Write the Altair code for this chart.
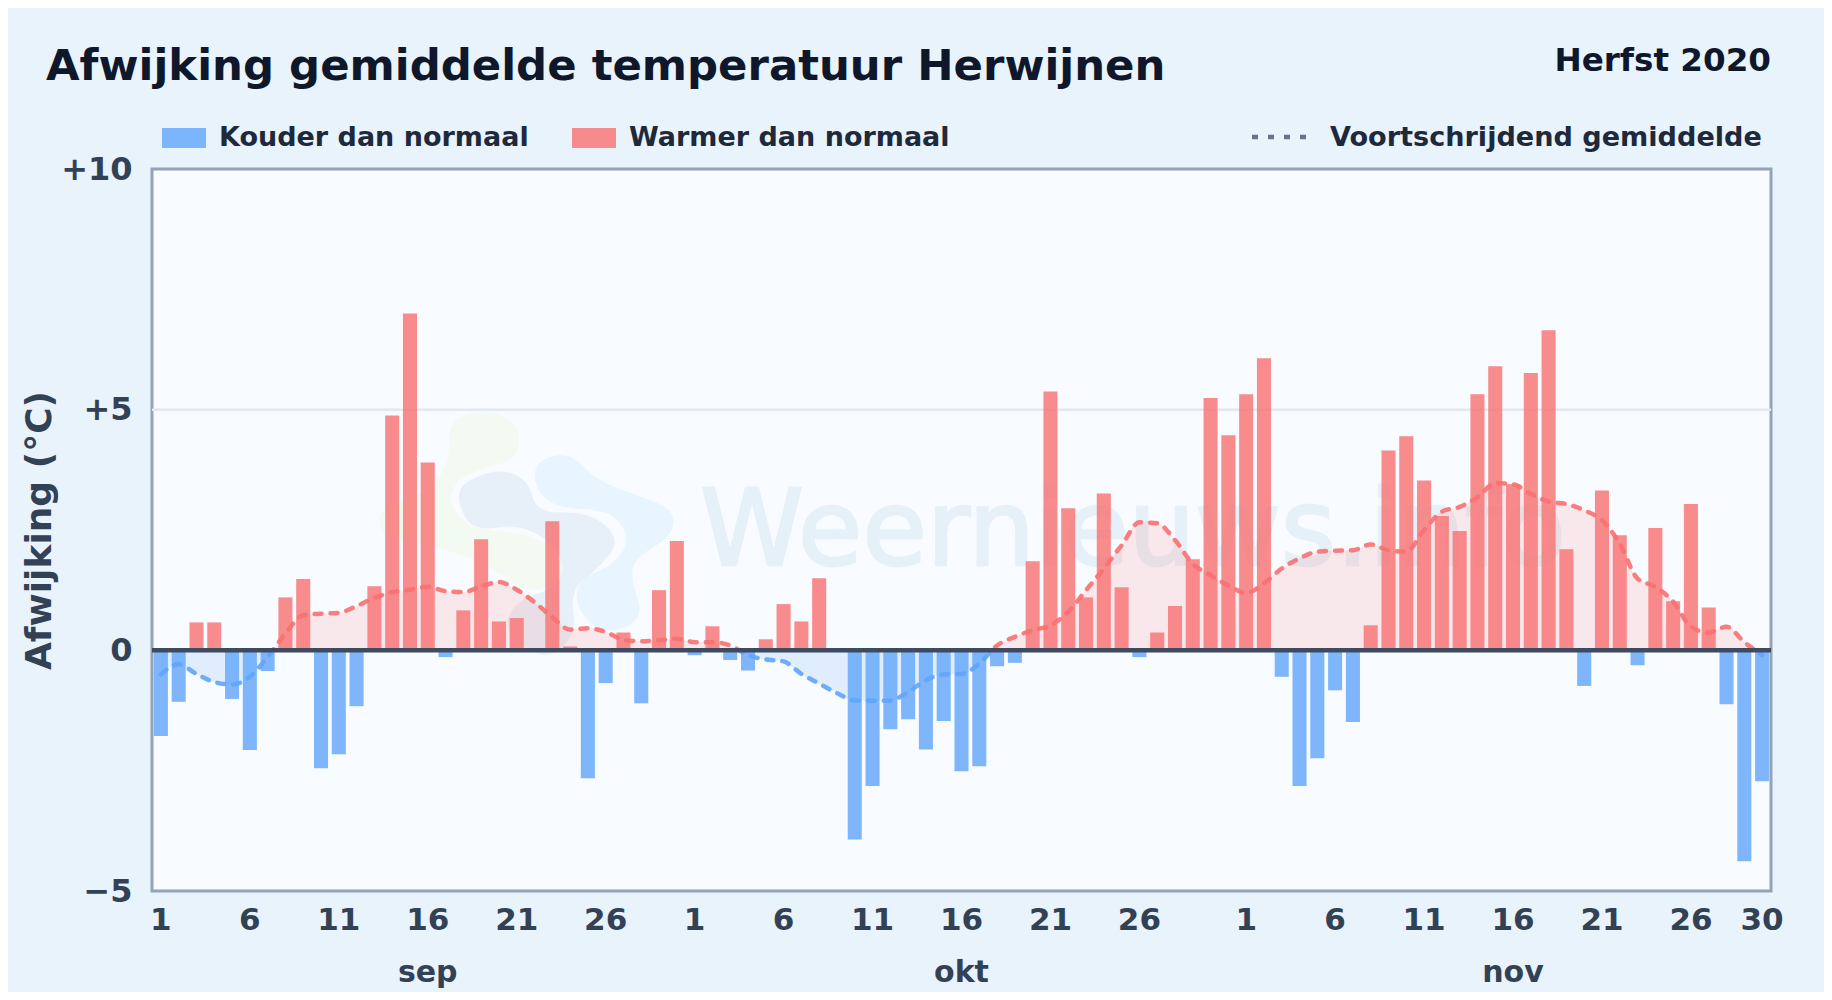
import altair as alt
import pandas as pd

FONT = "DejaVu Sans"
MONTHS = [("09", 30), ("10", 31), ("11", 30)]
DAG = [f"{m}-{d:02d}" for m, n in MONTHS for d in range(1, n + 1)]

AFWIJKING_SEP = [-1.78, -1.07, 0.58, 0.58, -1.01, -2.07, -0.43, 1.10, 1.48, -2.45,
                 -2.16, -1.16, 1.33, 4.88, 7.00, 3.90, -0.14, 0.83, 2.31, 0.60,
                 0.67, 0.0, 2.68, 0.08, -2.66, -0.68, 0.37, -1.10, 1.25, 2.27]
AFWIJKING_OKT = [-0.10, 0.50, -0.20, -0.42, 0.23, 0.96, 0.60, 1.50, 0.0, -3.93,
                 -2.82, -1.64, -1.43, -2.06, -1.47, -2.51, -2.41, -0.33, -0.26, 1.85,
                 5.38, 2.95, 1.10, 3.26, 1.31, -0.14, 0.37, 0.92, 1.89, 5.24, 4.47]
AFWIJKING_NOV = [5.32, 6.07, -0.55, -2.82, -2.24, -0.83, -1.49, 0.52, 4.15, 4.45,
                 3.53, 2.79, 2.48, 5.32, 5.90, 3.45, 5.76, 6.65, 2.10, -0.74,
                 3.32, 2.39, -0.31, 2.54, 1.02, 3.04, 0.89, -1.12, -4.38, -2.72]
GEMIDDELD_SEP = [-0.50, -0.29, -0.49, -0.66, -0.71, -0.55, -0.14, 0.35, 0.73, 0.76,
                 0.78, 0.92, 1.09, 1.21, 1.26, 1.32, 1.23, 1.21, 1.33, 1.42,
                 1.26, 1.00, 0.69, 0.43, 0.46, 0.38, 0.22, 0.19, 0.21, 0.24]
GEMIDDELD_OKT = [0.17, 0.17, 0.10, -0.10, -0.19, -0.23, -0.49, -0.69, -0.89, -1.04,
                 -1.05, -1.04, -0.87, -0.62, -0.50, -0.49, -0.28, 0.10, 0.28, 0.42,
                 0.52, 0.80, 1.25, 1.70, 2.18, 2.66, 2.64, 2.29, 1.80, 1.56, 1.35]
GEMIDDELD_NOV = [1.19, 1.39, 1.70, 1.91, 2.05, 2.07, 2.08, 2.20, 2.08, 2.05,
                 2.50, 2.88, 2.98, 3.18, 3.47, 3.45, 3.25, 3.09, 3.04, 2.91,
                 2.70, 2.22, 1.49, 1.32, 1.01, 0.49, 0.37, 0.49, 0.17, -0.10]
AFWIJKING = AFWIJKING_SEP + AFWIJKING_OKT + AFWIJKING_NOV
GEMIDDELD = GEMIDDELD_SEP + GEMIDDELD_OKT + GEMIDDELD_NOV
X_TICKS = [f"09-{d:02d}" for d in (1, 6, 11, 16, 21, 26)] + \
          [f"10-{d:02d}" for d in (1, 6, 11, 16, 21, 26)] + \
          [f"11-{d:02d}" for d in (1, 6, 11, 16, 21, 26, 30)]
MONTH_KEYS = ["09-16", "10-16", "11-16"]
MONTH_LABELS = ["sep", "okt", "nov"]
KOUD, WARM = "Kouder dan normaal", "Warmer dan normaal"

BG, PLOT_BG, FRAME = "#e9f3fc", "#f8fbff", "#94a3b8"
RED, BLUE = "#f87171", "#60a5fa"
W, H = 1619, 722
OX, OY = 144, 161  # plot origin inside the svg

df = pd.DataFrame({"dag": DAG, "afw": AFWIJKING, "gem": GEMIDDELD,
                   "soort": [WARM if v >= 0 else KOUD for v in AFWIJKING],
                   "nul": [0] * len(DAG)})

x = alt.X("dag:N", sort=DAG, title=None,
          scale=alt.Scale(paddingInner=0.21, paddingOuter=0.105),
          axis=alt.Axis(values=X_TICKS, labelAngle=0, labelFont=FONT, labelFontSize=31,
                        labelFontWeight="bold", labelColor="#334155", labelPadding=14,
                        labelExpr="toNumber(slice(datum.value, 3))", labelOverlap=False,
                        labelBound=False, labelFlush=False, ticks=False, domain=False,
                        grid=False))
y = alt.Y("afw:Q", title="Afwijking (°C)",
          scale=alt.Scale(domain=[-5, 10], nice=False),
          axis=alt.Axis(values=[-5, 0, 5, 10], ticks=False, domain=False, grid=False,
                        labelFont=FONT, labelFontSize=32, labelFontWeight="bold",
                        labelColor="#334155", labelPadding=20,
                        labelExpr="datum.value > 0 ? '+' + datum.value : (datum.value < 0 ? '−' + abs(datum.value) : '0')",
                        titleFont=FONT, titleFontSize=36, titleFontWeight="bold",
                        titleColor="#334155", titleX=-94, titleY=361))

top, bot = max(GEMIDDELD), min(GEMIDDELD)
zero = top / (top - bot)


def split_gradient(upper, lower):
    return alt.LinearGradient(gradient="linear", x1=0, x2=0, y1=0, y2=1, stops=[
        alt.GradientStop(offset=0, color=upper), alt.GradientStop(offset=zero, color=upper),
        alt.GradientStop(offset=zero, color=lower), alt.GradientStop(offset=1, color=lower)])


one = pd.DataFrame({"a": [0]})


def smooth(points):
    """Closed smooth path through the midpoints of a decorative outline."""
    cx, cy, k = 500, 430, 100
    p = [((a - cx) / k, (b - cy) / k) for a, b in points]
    mids = [((p[i][0] + p[(i + 1) % len(p)][0]) / 2, (p[i][1] + p[(i + 1) % len(p)][1]) / 2)
            for i in range(len(p))]
    d = f"M{mids[-1][0]:.3f},{mids[-1][1]:.3f}"
    for i in range(len(p)):
        d += f"Q{p[i][0]:.3f},{p[i][1]:.3f} {mids[i][0]:.3f},{mids[i][1]:.3f}"
    return d + "Z"


BLOB_GREEN = [(265, 90), (370, 55), (480, 100), (475, 205), (370, 235), (285, 270), (265, 350),
              (340, 420), (480, 425), (610, 480), (600, 580), (500, 610), (380, 520), (230, 470),
              (60, 440), (55, 350), (200, 310), (270, 220)]
BLOB_GREY = [(300, 280), (420, 235), (505, 270), (530, 370), (690, 365), (785, 450), (710, 540),
             (630, 600), (650, 740), (550, 815), (425, 720), (470, 630), (600, 590), (610, 490),
             (490, 400), (340, 425), (295, 345)]
BLOB_BLUE = [(520, 215), (630, 185), (705, 270), (830, 315), (945, 360), (935, 440), (830, 500),
             (810, 560), (855, 690), (730, 735), (650, 660), (650, 570), (770, 520), (810, 440),
             (750, 360), (600, 355), (530, 310)]


def blob(points, colour):
    return alt.Chart(one).mark_point(shape=smooth(points), filled=True, fill=colour, stroke=None,
                                     opacity=1, size=4444, clip=False).encode(
        x=alt.value(374.7), y=alt.value(364.3))


def label(text, px, py, size, colour, align="left", weight="bold", **kw):
    return alt.Chart(pd.DataFrame({"t": [text]})).mark_text(
        font=FONT, fontSize=size, fontWeight=weight, color=colour, align=align,
        baseline="alphabetic", clip=False, **kw).encode(
        text="t:N", x=alt.value(px), y=alt.value(py))


grid_five = alt.Chart(one).mark_rule(color="#e2e8f0", strokeWidth=2.5).encode(y=alt.datum(5))
watermark = alt.layer(
    blob(BLOB_GREEN, "#f3faf2"), blob(BLOB_BLUE, "#e9f5fe"), blob(BLOB_GREY, "#e7f0f8"),
    label("Weernieuws.info", 548, 396, 105, "#e6f0f8", weight="normal", stroke="#e6f0f8", strokeWidth=2.5),
)

base = alt.Chart(df)
area = base.mark_area(interpolate="monotone",
                      fill=split_gradient("rgba(248,113,113,0.14)", "rgba(96,165,250,0.16)")).encode(
    x=x, y=alt.Y("gem:Q", scale=alt.Scale(domain=[-5, 10], nice=False)), y2="nul:Q")
bars = base.mark_bar(opacity=0.8).encode(
    x=x, y=y, y2=alt.Y2(datum=0),
    color=alt.Color("soort:N", title=None,
                    scale=alt.Scale(domain=[KOUD, WARM], range=[BLUE, RED]),
                    legend=alt.Legend(orient="none", legendX=10, legendY=-53, direction="horizontal",
                                      columns=2, columnPadding=43,
                                      symbolType="M-1,-0.45H1V0.45H-1Z", symbolSize=1936,
                                      symbolStrokeWidth=0, symbolOpacity=0.8,
                                      labelFont=FONT, labelFontSize=27, labelFontWeight="bold",
                                      labelColor="#1e293b", labelOffset=13, labelLimit=600)))
line = base.mark_line(interpolate="monotone", strokeWidth=4.5, strokeDash=[7, 9], strokeCap="round",
                      opacity=0.9, stroke=split_gradient(RED, BLUE)).encode(
    x=x, y=alt.Y("gem:Q", scale=alt.Scale(domain=[-5, 10], nice=False)))
zero_rule = alt.Chart(one).mark_rule(color="#3d4a5f", strokeWidth=4.5).encode(y=alt.datum(0))
months = alt.Chart(pd.DataFrame({"dag": MONTH_KEYS, "maand": MONTH_LABELS})).mark_text(
    font=FONT, fontSize=30, fontWeight="bold", color="#334155", baseline="alphabetic", clip=False
).encode(x=alt.X("dag:N", sort=DAG), y=alt.value(982 - 169), text="maand:N")

dots = alt.Chart(one).mark_rule(color="#64748b", strokeWidth=4.5, strokeDash=[6, 10], clip=False).encode(
    x=alt.value(1100), x2=alt.value(1160), y=alt.value(-32))

chart = alt.layer(
    grid_five, watermark, area, bars, line, zero_rule, months, dots,
    label("Afwijking gemiddelde temperatuur Herwijnen", -106, 80 - 169, 43.4, "#0f172a"),
    label("Herfst 2020", 1619, 71 - 169, 32.6, "#0f172a", align="right"),
    label("Voortschrijdend gemiddelde", 1178, 146 - 169, 27.1, "#1e293b"),
).properties(
    width=W, height=H,
    background=BG,
    autosize=alt.AutoSizeParams(type="none"),
    padding={"left": OX, "top": OY, "right": 1816 - OX - W, "bottom": 984 - OY - H},
).configure_view(fill=PLOT_BG, stroke=FRAME, strokeWidth=3
).resolve_scale(color="independent")

chart.save("out.html", embed_options={"renderer": "svg", "actions": False})
